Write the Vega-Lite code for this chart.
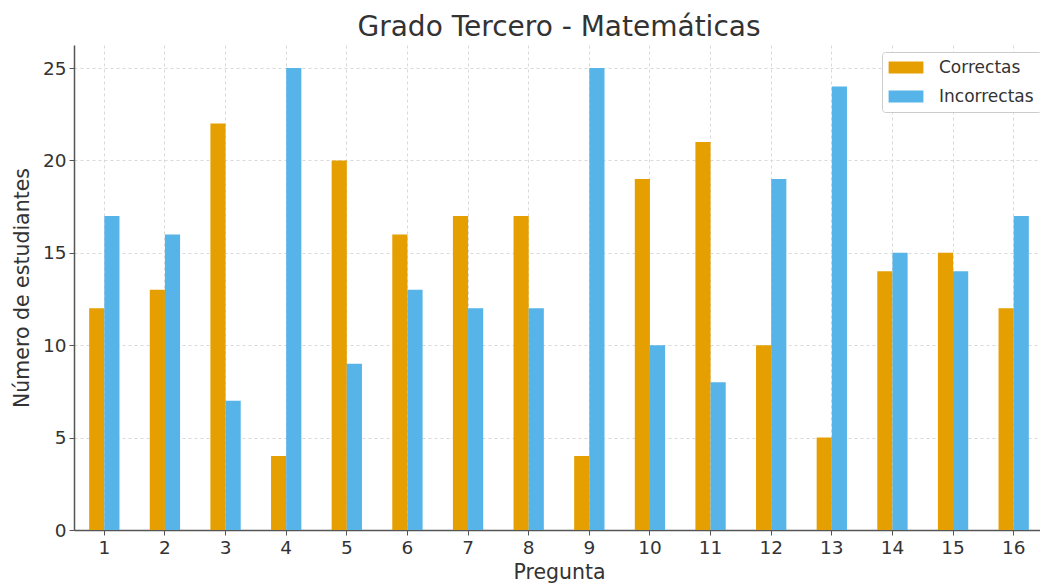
{
  "$schema": "https://vega.github.io/schema/vega-lite/v6.json",
  "width": 970,
  "height": 485,
  "autosize": {"type": "none"},
  "padding": {"left": 74, "top": 45, "right": 0, "bottom": 56},
  "background": "white",
  "title": {"text": "Grado Tercero - Matemáticas", "font": "DejaVu Sans", "fontSize": 28, "fontWeight": "normal", "color": "#333333", "anchor": "middle", "offset": 3},
  "data": {"values": [
    {"pregunta": 1, "tipo": "Correctas", "n": 12}, {"pregunta": 1, "tipo": "Incorrectas", "n": 17},
    {"pregunta": 2, "tipo": "Correctas", "n": 13}, {"pregunta": 2, "tipo": "Incorrectas", "n": 16},
    {"pregunta": 3, "tipo": "Correctas", "n": 22}, {"pregunta": 3, "tipo": "Incorrectas", "n": 7},
    {"pregunta": 4, "tipo": "Correctas", "n": 4}, {"pregunta": 4, "tipo": "Incorrectas", "n": 25},
    {"pregunta": 5, "tipo": "Correctas", "n": 20}, {"pregunta": 5, "tipo": "Incorrectas", "n": 9},
    {"pregunta": 6, "tipo": "Correctas", "n": 16}, {"pregunta": 6, "tipo": "Incorrectas", "n": 13},
    {"pregunta": 7, "tipo": "Correctas", "n": 17}, {"pregunta": 7, "tipo": "Incorrectas", "n": 12},
    {"pregunta": 8, "tipo": "Correctas", "n": 17}, {"pregunta": 8, "tipo": "Incorrectas", "n": 12},
    {"pregunta": 9, "tipo": "Correctas", "n": 4}, {"pregunta": 9, "tipo": "Incorrectas", "n": 25},
    {"pregunta": 10, "tipo": "Correctas", "n": 19}, {"pregunta": 10, "tipo": "Incorrectas", "n": 10},
    {"pregunta": 11, "tipo": "Correctas", "n": 21}, {"pregunta": 11, "tipo": "Incorrectas", "n": 8},
    {"pregunta": 12, "tipo": "Correctas", "n": 10}, {"pregunta": 12, "tipo": "Incorrectas", "n": 19},
    {"pregunta": 13, "tipo": "Correctas", "n": 5}, {"pregunta": 13, "tipo": "Incorrectas", "n": 24},
    {"pregunta": 14, "tipo": "Correctas", "n": 14}, {"pregunta": 14, "tipo": "Incorrectas", "n": 15},
    {"pregunta": 15, "tipo": "Correctas", "n": 15}, {"pregunta": 15, "tipo": "Incorrectas", "n": 14},
    {"pregunta": 16, "tipo": "Correctas", "n": 12}, {"pregunta": 16, "tipo": "Incorrectas", "n": 17}
  ]},
  "mark": {"type": "bar"},
  "encoding": {
    "x": {
      "field": "pregunta", "type": "ordinal", "title": "Pregunta",
      "scale": {"paddingInner": 0.5, "paddingOuter": 0.25},
      "axis": {"labelAngle": 0, "bandPosition": 0.5, "grid": true, "gridDash": [3, 3], "gridColor": "#d9d9d9", "gridWidth": 1,
               "domainColor": "#555555", "domainWidth": 1.5, "tickColor": "#555555", "tickSize": 5,
               "labelFont": "DejaVu Sans", "labelFontSize": 18.5, "labelColor": "#333333", "labelPadding": 3,
               "titleFont": "DejaVu Sans", "titleFontSize": 20.5, "titleFontWeight": "normal", "titleColor": "#333333", "titlePadding": 6}
    },
    "xOffset": {"field": "tipo", "type": "nominal"},
    "y": {
      "field": "n", "type": "quantitative", "title": "Número de estudiantes",
      "scale": {"domain": [0, 26.25], "nice": false},
      "axis": {"values": [0, 5, 10, 15, 20, 25], "grid": true, "gridDash": [3, 3], "gridColor": "#d9d9d9", "gridWidth": 1,
               "domainColor": "#555555", "domainWidth": 1.5, "tickColor": "#555555", "tickSize": 5,
               "labelFont": "DejaVu Sans", "labelFontSize": 18.5, "labelColor": "#333333", "labelPadding": 3,
               "titleFont": "DejaVu Sans", "titleFontSize": 20.5, "titleFontWeight": "normal", "titleColor": "#333333", "titlePadding": 10}
    },
    "color": {
      "field": "tipo", "type": "nominal",
      "scale": {"domain": ["Correctas", "Incorrectas"], "range": ["#E69F00", "#56B4E9"]},
      "legend": {"title": null, "orient": "none", "legendX": 808, "legendY": 7,
                 "symbolType": "M-2.9,-1L2.9,-1L2.9,1L-2.9,1Z", "symbolSize": 144, "symbolStrokeWidth": 0, "symbolOffset": 8.5,
                 "labelFont": "DejaVu Sans", "labelFontSize": 17, "labelColor": "#333333", "labelOffset": 24.5, "rowPadding": 11,
                 "strokeColor": "#cccccc", "fillColor": "white", "padding": 7, "cornerRadius": 3}
    }
  },
  "config": {"view": {"stroke": null}}
}
